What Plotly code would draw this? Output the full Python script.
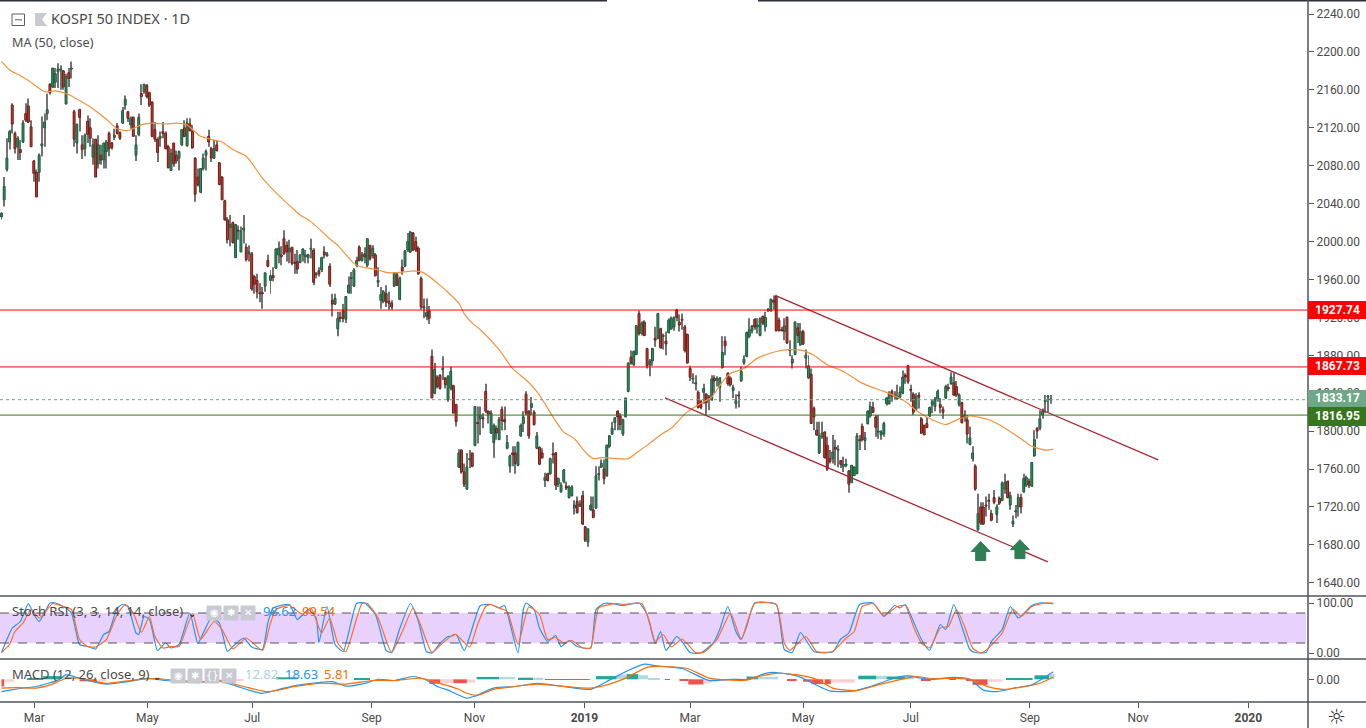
import plotly.graph_objects as go

W, H = 1366, 728

# daily candles
open_prices = [
    2026,2044,2076,2105,2144,2114,2100,2097,2105,2135,
    2143,2121,2085,2073,2073,2101,2120,2135,2166,2163,
    2168,2179,2181,2180,2145,2178,2182,2137,2104,2139,
    2102,2098,2127,2120,2089,2108,2082,2091,2086,2095,
    2114,2104,2110,2122,2115,2125,2144,2137,2123,2131,
    2091,2113,2156,2158,2165,2157,2147,2118,2108,2109,
    2116,2114,2100,2075,2104,2091,2088,2102,2120,2101,
    2124,2116,2088,2068,2052,2077,2091,2111,2098,2088,
    2102,2083,2068,2043,2023,2015,2020,1983,2012,1989,
    2012,1994,1987,1987,1963,1959,1946,1946,1953,1980,
    1959,1964,1972,1986,1986,2003,1996,1989,1994,1978,
    1979,1978,1986,1984,1983,1992,1991,1965,1969,1970,
    1989,1985,1974,1938,1934,1908,1920,1927,1918,1946,
    1961,1953,1975,1994,1980,1987,1975,1996,1985,1986,
    1957,1938,1937,1945,1937,1935,1953,1965,1939,1973,
    1974,1991,1989,2009,2000,1993,1961,1931,1921,1927,
    1879,1840,1857,1859,1865,1856,1833,1845,1848,1828,
    1762,1780,1757,1739,1770,1777,1785,1809,1813,1814,
    1842,1821,1798,1788,1803,1791,1823,1812,1782,1763,
    1777,1777,1764,1795,1808,1839,1821,1825,1820,1782,
    1783,1777,1748,1755,1755,1776,1777,1744,1736,1747,
    1742,1730,1732,1719,1726,1721,1732,1699,1683,1717,
    1717,1719,1754,1762,1760,1753,1784,1797,1809,1821,
    1816,1797,1815,1842,1878,1870,1881,1924,1903,1915,
    1887,1870,1874,1898,1898,1908,1900,1895,1904,1908,
    1910,1928,1915,1918,1910,1902,1866,1855,1850,1841,
    1831,1841,1839,1836,1833,1856,1854,1846,1867,1895,
    1861,1856,1843,1829,1838,1853,1872,1879,1900,1906,
    1918,1910,1901,1921,1910,1928,1927,1938,1942,1917,
    1907,1905,1920,1885,1872,1881,1909,1891,1905,1877,
    1856,1860,1824,1801,1777,1794,1799,1785,1771,1771,
    1783,1780,1769,1763,1764,1758,1746,1753,1755,1791,
    1805,1790,1808,
    1816,1825,1815,1799,1796,1797,1829,1829,1842,1838,
    1834,1836,1840,1859,1869,1844,1839,1823,1838,1813,
    1806,1808,1816,1828,1826,1833,1828,1823,1835,1846,
    1850,1851,1847,1828,1830,1815,1812,1786,1771,1763,
    1696,1720,1720,1722,1727,1713,1730,1712,1729,1727,
    1739,1747,1722,1702,1715,1720,1730,1736,1743,1747,
    1742,1774,1803,1803,1817,1831,1836,1833,
]
high_prices = [
    2031,2068,2109,2118,2146,2116,2111,2107,2128,2146,
    2151,2128,2086,2076,2093,2132,2135,2156,2167,2183,
    2183,2188,2186,2181,2177,2183,2190,2139,2124,2140,
    2112,2114,2133,2130,2109,2108,2112,2102,2104,2107,
    2116,2105,2119,2125,2116,2142,2154,2137,2132,2132,
    2112,2135,2166,2166,2166,2158,2148,2126,2110,2116,
    2126,2116,2102,2098,2104,2096,2096,2118,2128,2130,
    2130,2123,2089,2077,2077,2093,2097,2118,2100,2107,
    2106,2084,2069,2044,2026,2028,2021,2018,2017,2016,
    2028,1998,1996,1989,1965,1966,1956,1952,1967,1986,
    1970,1973,1993,2000,1995,2012,2000,2002,1994,1987,
    1991,1986,1993,1991,1987,2003,1993,1968,1973,1984,
    1995,1989,1977,1945,1945,1926,1926,1934,1942,1963,
    1968,1972,1984,1996,1989,1994,2003,1996,1996,1988,
    1973,1952,1949,1954,1947,1938,1968,1968,1963,1981,
    1991,2009,2011,2010,2005,1995,1963,1940,1940,1932,
    1886,1872,1859,1860,1879,1857,1859,1868,1849,1829,
    1781,1781,1766,1777,1780,1777,1826,1826,1826,1819,
    1850,1822,1822,1808,1806,1815,1826,1826,1796,1775,
    1784,1784,1789,1808,1821,1842,1822,1836,1822,1799,
    1784,1782,1756,1756,1772,1788,1778,1751,1746,1760,
    1747,1743,1743,1727,1731,1727,1737,1700,1697,1731,
    1731,1763,1763,1770,1770,1786,1796,1810,1815,1822,
    1819,1813,1835,1872,1885,1885,1912,1927,1916,1917,
    1888,1876,1888,1910,1925,1909,1903,1905,1919,1921,
    1921,1929,1923,1924,1912,1903,1869,1861,1859,1843,
    1833,1850,1840,1838,1859,1859,1858,1857,1900,1900,
    1862,1858,1849,1839,1842,1868,1880,1905,1919,1912,
    1919,1919,1920,1922,1926,1930,1940,1943,1944,1920,
    1910,1919,1921,1896,1880,1916,1914,1914,1907,1886,
    1880,1866,1826,1810,1810,1810,1800,1794,1780,1796,
    1791,1785,1769,1773,1771,1759,1764,1763,1798,1796,
    1808,1799,1822,
    1831,1831,1817,1817,1801,1810,1836,1842,1844,1842,
    1849,1847,1864,1861,1870,1849,1841,1840,1841,1815,
    1807,1815,1826,1833,1836,1844,1835,1826,1849,1850,
    1862,1862,1853,1840,1831,1822,1817,1805,1784,1765,
    1734,1725,1725,1731,1734,1717,1738,1723,1731,1747,
    1755,1748,1736,1711,1722,1734,1734,1755,1753,1750,
    1767,1801,1804,1822,1824,1838,1838,1838,
]
low_prices = [
    2023,2037,2074,2097,2114,2093,2086,2086,2104,2126,
    2125,2100,2063,2047,2063,2090,2100,2128,2155,2162,
    2162,2162,2160,2160,2145,2163,2172,2100,2093,2116,
    2087,2090,2104,2100,2081,2068,2077,2081,2077,2077,
    2090,2097,2107,2113,2107,2124,2139,2126,2119,2111,
    2085,2111,2144,2156,2151,2142,2110,2105,2084,2100,
    2109,2097,2077,2075,2079,2082,2075,2101,2110,2100,
    2116,2098,2042,2058,2051,2075,2075,2100,2084,2087,
    2095,2060,2044,2022,1998,1995,1998,1983,2002,1989,
    1998,1979,1979,1948,1945,1940,1936,1929,1947,1973,
    1945,1958,1971,1977,1975,1986,1979,1977,1975,1966,
    1966,1977,1979,1977,1977,1982,1954,1961,1963,1968,
    1982,1984,1952,1921,1933,1900,1915,1915,1914,1945,
    1945,1952,1973,1979,1979,1977,1973,1980,1982,1963,
    1952,1929,1935,1931,1928,1928,1952,1953,1938,1965,
    1973,1989,1988,1990,1989,1965,1928,1919,1917,1913,
    1835,1839,1845,1844,1854,1845,1831,1843,1819,1805,
    1761,1755,1741,1738,1761,1762,1784,1787,1796,1803,
    1819,1808,1797,1772,1791,1791,1801,1801,1781,1756,
    1763,1755,1763,1794,1799,1817,1792,1817,1806,1781,
    1764,1771,1741,1747,1754,1766,1738,1741,1735,1745,
    1738,1729,1731,1712,1713,1720,1701,1683,1678,1716,
    1708,1718,1748,1761,1744,1752,1782,1796,1801,1801,
    1801,1795,1815,1841,1870,1869,1880,1901,1901,1900,
    1866,1858,1869,1889,1897,1887,1886,1880,1903,1907,
    1906,1916,1905,1907,1883,1871,1853,1850,1843,1824,
    1823,1829,1817,1822,1832,1840,1847,1831,1866,1880,
    1848,1847,1835,1824,1825,1852,1870,1878,1898,1903,
    1907,1903,1900,1912,1905,1926,1926,1928,1905,1905,
    1905,1896,1892,1879,1866,1880,1893,1890,1891,1866,
    1855,1808,1801,1795,1776,1792,1771,1758,1766,1766,
    1764,1762,1761,1757,1762,1735,1745,1753,1755,1780,
    1789,1780,1807,
    1814,1819,1794,1792,1791,1794,1827,1828,1831,1834,
    1833,1835,1839,1850,1850,1831,1817,1822,1824,1797,
    1796,1803,1815,1819,1821,1831,1819,1813,1834,1842,
    1849,1837,1836,1826,1808,1810,1787,1785,1768,1737,
    1695,1701,1701,1710,1717,1705,1723,1703,1722,1726,
    1734,1729,1717,1699,1708,1710,1713,1735,1741,1740,
    1741,1773,1792,1801,1813,1819,1820,1829,
]
close_prices = [
    2030,2058,2088,2116,2124,2098,2109,2094,2125,2128,
    2126,2100,2072,2047,2091,2103,2126,2139,2157,2183,
    2177,2182,2182,2163,2174,2172,2183,2108,2124,2131,
    2097,2112,2113,2109,2102,2068,2102,2086,2104,2105,
    2098,2099,2112,2114,2109,2138,2150,2130,2130,2111,
    2102,2131,2153,2166,2153,2144,2111,2108,2094,2111,
    2114,2098,2078,2093,2082,2085,2095,2118,2111,2125,
    2117,2099,2050,2060,2077,2088,2095,2105,2088,2098,
    2096,2060,2044,2023,2002,2018,1999,2018,2011,2011,
    2014,1981,1989,1950,1955,1947,1945,1945,1967,1974,
    1964,1962,1992,1993,1984,1987,1989,1993,1977,1977,
    1971,1986,1992,1986,1986,1993,1957,1966,1966,1983,
    1986,1987,1955,1934,1940,1919,1919,1919,1942,1954,
    1962,1970,1980,1980,1986,1984,2003,1982,1993,1964,
    1959,1944,1947,1936,1935,1931,1967,1954,1961,1969,
    1990,2000,2010,1991,1991,1966,1931,1930,1925,1919,
    1835,1865,1847,1845,1866,1849,1858,1863,1819,1810,
    1777,1757,1744,1762,1771,1763,1826,1808,1817,1813,
    1821,1818,1819,1806,1798,1812,1811,1810,1788,1774,
    1775,1766,1788,1806,1815,1819,1795,1829,1807,1795,
    1765,1772,1751,1748,1771,1775,1743,1750,1743,1759,
    1740,1741,1741,1722,1714,1723,1702,1685,1697,1722,
    1709,1753,1755,1766,1750,1785,1795,1803,1814,1815,
    1807,1812,1835,1872,1872,1884,1911,1903,1914,1901,
    1869,1874,1887,1896,1924,1888,1901,1892,1917,1919,
    1920,1920,1912,1917,1885,1872,1857,1856,1851,1825,
    1825,1845,1830,1835,1855,1853,1855,1856,1883,1890,
    1850,1849,1846,1832,1837,1863,1876,1904,1907,1911,
    1910,1912,1919,1914,1920,1927,1939,1936,1906,1906,
    1906,1911,1893,1886,1876,1915,1901,1905,1892,1880,
    1869,1808,1815,1796,1795,1798,1772,1760,1768,1778,
    1781,1781,1765,1765,1765,1744,1764,1762,1795,1790,
    1791,1793,1821,
    1826,1820,1804,1800,1799,1808,1835,1840,1837,1837,
    1837,1841,1857,1857,1852,1843,1820,1836,1836,1798,
    1796,1804,1825,1831,1834,1842,1825,1820,1847,1845,
    1857,1838,1838,1838,1809,1817,1797,1793,1777,1739,
    1713,1703,1702,1721,1726,1706,1725,1720,1724,1745,
    1746,1730,1732,1705,1716,1730,1720,1750,1751,1743,
    1767,1791,1800,1813,1821,1833,1837,1833.17,
]

# moving average
ma_bar = [0,3,7,10,16,20,25,27,33,39,43,47,52,56,61,65,69,74,79,82,86,91,97,104,109,111,115,122,125,131,133,140,144,150,153,157,163,
          165,170,172,175,178,185,190,195,199,202,205,209,213,217,220,223,233,236,240,246,249,254,258,264,268,271,276,281,288,293,298,302,307,313,319,
          323,328,335,341,346,351,356,360,367,372,379,383,388,391]
ma_val = [2190,2181,2175,2170,2158,2159,2155,2152,2142,2129,2119,2117,2123,2125,2124,2125,2123,2111,2107,2105,2097,2090,2067,2046,2033,2028,2021,2003,1996,1977,1974,1970,1967,1968,1969,1967,1954,
          1949,1935,1924,1914,1907,1886,1866,1854,1842,1829,1815,1799,1792,1778,1771,1772,1771,1777,1785,1798,1803,1818,1826,1836,1852,1861,1866,1877,1884,1886,1885,1880,1870,1863,1852,
          1847,1842,1833,1820,1812,1807,1813,1816,1812,1805,1792,1784,1780,1781]

# stoch rsi
stoch_k_bar = [0,2,4,7,10,12,14,16,18,20,23,26,29,32,35,38,40,43,45,47,50,51,53,55,58,61,63,66,70,73,75,78,81,84,86,90,93,97,99,101,107,110,114,117,118,121,124,127,132,135,139,143,145,148,152,155,158,160,163,166,
               167,169,172,176,178,182,185,187,189,192,194,195,198,200,203,206,208,211,214,219,221,224,227,231,237,240,243,245,247,251,253,256,260,265,267,270,273,275,277,280,288,291,294,297,302,309,312,315,319,324,328,332,334,
               336,339,342,345,349,351,354,357,360,362,366,368,372,375,378,383,386,391]
stoch_k = [1,27,50,63,99,77,63,80,100,100,93,80,17,13,8,37,43,90,97,93,40,37,73,67,5,20,10,17,80,19,40,70,60,3,13,30,12,7,60,90,97,67,87,70,21,93,17,3,99,100,77,5,1,48,99,63,3,0,19,33,
           33,37,5,67,95,97,90,95,60,0,87,100,87,50,23,35,13,25,13,10,87,99,99,95,100,77,19,43,5,33,23,1,0,23,47,93,43,27,53,100,97,7,1,41,3,2,28,40,97,100,73,95,90,
           97,63,27,5,57,47,97,53,7,1,1,23,47,93,70,95,100,98.62]
stoch_d_bar = [0,3,5,8,11,14,16,19,23,26,29,32,35,39,43,46,49,52,55,57,60,63,66,71,74,79,82,86,91,97,100,102,107,112,115,119,122,125,128,134,136,140,145,149,153,156,160,164,168,
               169,174,177,180,182,185,188,192,196,200,203,206,209,212,216,219,222,229,231,238,241,243,246,249,253,258,261,266,271,275,280,288,291,293,299,303,309,314,317,320,324,328,333,
               336,339,342,345,349,352,355,358,361,364,367,372,376,379,383,388,391]
stoch_d = [1,17,43,60,87,70,80,99,93,87,27,13,12,27,77,97,80,41,73,33,10,13,13,79,27,63,47,8,30,5,60,87,95,77,90,40,70,20,3,99,99,70,1,43,90,53,1,20,37,
           37,12,57,93,97,90,83,17,92,77,27,31,20,25,10,10,90,99,97,99,60,23,37,12,28,1,1,27,80,28,99,97,20,5,33,3,3,30,43,93,99,75,93,
           95,53,20,10,50,53,87,53,10,0,10,40,88,73,93,100,99.54]

# macd
macd_bar = [0,3,7,13,21,24,29,34,39,47,54,61,74,79,86,92,97,105,111,118,123,128,135,140,146,153,158,162,166,
            173,176,183,191,199,208,219,226,232,239,244,253,263,271,278,284,288,296,308,317,323,334,338,
            340,346,354,360,365,370,377,383,391]
macd_val = [-31,-27,-23,-18,-2,11,2.5,-6,-12,-6,2.5,-3,-8,-2,-14,-27,-35,-22,-14,-8,-6,-17,-10,0,-3,7,-2,-18,-27,
            -47,-42,-22,-18,-10,-17,-25,-2,19,38,33,27,-3,0,0,15,17,8,-29,-29,-18,7,8,
            5,0,5,0,-27,-31,-21,-14,18.63]
signal_bar = [0,6,13,18,24,30,39,49,57,66,76,81,90,99,109,118,128,138,146,156,163,170,
              173,177,183,191,199,208,219,226,232,240,246,255,263,271,276,282,288,296,303,309,318,327,338,
              340,346,354,360,366,372,378,386,391]
signal_val = [-22,-21,-22,-14,2,2,-10,-2,2,-3,-6,-3,-18,-31,-18,-10,-12,-3,-3,2.5,-10,-25,
              -35,-40,-25,-18,-12,-17,-22,-12,3,30,32,27,3,-2,-3,8,15,11,0,-22,-28,-12,5,
              7,2,2.5,0,-17,-25,-21,-10,5.81]

TEAL, LIGHT, PINK, RED = "#26a69a", "#b2d8e2", "#ffcdd2", "#ef5350"
hist_start = [0,1,9.5,15.5,22,29,36,80.5,87,102,131,159,163,168,173,176.6,185,192,197.7,202,221,228.7,232.4,236.7,240.4,246.6,252,255.3,261,264,
              277,281.3,292,298,301,306,308.3,318.5,325.3,329,336,341.8,352.3,358.5,361,366.6,373.4,384,389.5]
hist_end = [1,4.5,15.5,22,26,35.5,39,86,90,110,137,163,168,173,176,185,191,197.7,201.4,218.7,228.7,232.4,236.7,240.4,244.8,248.5,255.3,261,264,269.6,
            281.3,288.8,295.6,301,305.5,308.3,317.3,325.3,329,336,339.3,345.5,354.8,361,366.6,372.1,383.3,389.5,391.4]
hist_val = [-18,-6,3,8,6,-5,-3,-6,-4,5,3,-11,-10,-10,-8,6,6,4,4,-1.5,8,12,13,10,3,-1,-4,-13,-10,-2,
            7,6,-3,-6,-12,-12,-8,9,9,7,10,-3.5,3,-3,-14,-6,3,10,12.82]
hist_color = [RED,PINK,TEAL,TEAL,LIGHT,RED,PINK,PINK,PINK,TEAL,TEAL,RED,PINK,RED,PINK,TEAL,LIGHT,TEAL,LIGHT,RED,TEAL,LIGHT,TEAL,LIGHT,LIGHT,RED,RED,RED,PINK,PINK,
              TEAL,LIGHT,RED,RED,RED,RED,PINK,TEAL,LIGHT,TEAL,LIGHT,RED,TEAL,RED,RED,PINK,TEAL,TEAL,LIGHT]

# levels and drawn lines
level_high = 1927.74
level_mid = 1867.73
level_low = 1816.95
last_price = 1833.17
upper_bar = [288, 430]
upper_val = [1942.6, 1769.6]
lower_bar = [246.7, 389]
lower_val = [1835, 1662]

price_ticks = [1640 + 40 * i for i in range(16)]
date_tick_bar = [12.2, 54.2, 93.2, 137.6, 175.8, 216.7, 256, 298, 338, 382.3, 422.5, 463.5]
date_tick_text = ["Mar", "May", "Jul", "Sep", "Nov", "<b>2019</b>", "Mar", "May", "Jul", "Sep", "Nov", "<b>2020</b>"]

FONT = "Noto Sans"
AXIS_FONT = "Roboto"
TEXT = "#4a4a4a"
SEP = "#50535e"
BAR_STEP = 2.69


def fx(px):
    return px / W


def fy(py):
    return 1 - py / H


bars = list(range(len(close_prices)))
up = [c >= o for o, c in zip(open_prices, close_prices)]

fig = go.Figure()

# wicks
fig.add_trace(go.Bar(
    x=bars, base=low_prices, y=[h - l for h, l in zip(high_prices, low_prices)],
    width=0.37, marker=dict(color="#737373", line=dict(width=0)),
    xaxis="x", yaxis="y", hoverinfo="skip"))
# bodies
fig.add_trace(go.Bar(
    x=bars,
    base=[min(o, c) for o, c in zip(open_prices, close_prices)],
    y=[max(abs(c - o), 1) for o, c in zip(open_prices, close_prices)],
    width=0.72,
    marker=dict(color=["#388e63" if u else "#c73a2e" for u in up],
                line=dict(color=["#1d5c3d" if u else "#6e1f1a" for u in up], width=1)),
    xaxis="x", yaxis="y", hoverinfo="skip"))
fig.add_trace(go.Scatter(x=ma_bar, y=ma_val, mode="lines", line=dict(color="#f7923c", width=1.2, shape="spline", smoothing=0.6), xaxis="x", yaxis="y"))
for xs, ys in [(upper_bar, upper_val), (lower_bar, lower_val)]:
    fig.add_trace(go.Scatter(x=xs, y=ys, mode="lines", line=dict(color="#a82735", width=1.3), xaxis="x", yaxis="y"))

# stoch rsi
fig.add_trace(go.Scatter(x=stoch_k_bar, y=stoch_k, mode="lines", line=dict(color="#2196f3", width=1.2, shape="spline", smoothing=0.5), xaxis="x2", yaxis="y2"))
fig.add_trace(go.Scatter(x=stoch_d_bar, y=stoch_d, mode="lines", line=dict(color="#ff6d2e", width=1.2, shape="spline", smoothing=0.5), xaxis="x2", yaxis="y2"))

# macd
fig.add_trace(go.Bar(
    x=[(a + b) / 2 for a, b in zip(hist_start, hist_end)],
    y=hist_val,
    width=[b - a for a, b in zip(hist_start, hist_end)],
    marker=dict(color=hist_color, line=dict(width=0)),
    xaxis="x3", yaxis="y3", hoverinfo="skip"))
fig.add_trace(go.Scatter(x=macd_bar, y=macd_val, mode="lines", line=dict(color="#2196f3", width=1.2, shape="spline", smoothing=0.6), xaxis="x3", yaxis="y3"))
fig.add_trace(go.Scatter(x=signal_bar, y=signal_val, mode="lines", line=dict(color="#ff6d00", width=1.2, shape="spline", smoothing=0.6), xaxis="x3", yaxis="y3"))

xrange = [-1.5 / BAR_STEP, (1308 - 1.5) / BAR_STEP]
shapes = []
annotations = []


def hline(value, color, dash="solid", width=1, yref="y"):
    shapes.append(dict(type="line", xref="paper", yref=yref, x0=0, x1=fx(1308), y0=value, y1=value,
                       line=dict(color=color, width=width, dash=dash)))


def rule(x0, y0, x1, y1, color=SEP, width=1.5):
    shapes.append(dict(type="line", xref="paper", yref="paper", x0=fx(x0), x1=fx(x1), y0=fy(y0), y1=fy(y1),
                       line=dict(color=color, width=width)))


def label(px, py, text, size=12, color=TEXT, anchor="left", family=FONT):
    # annotations sit a little off their anchor, so pull them back
    nudge = -2 if anchor == "left" else 0
    annotations.append(dict(xref="paper", yref="paper", x=fx(px + nudge), y=fy(py - 2), text=text, showarrow=False,
                            xanchor=anchor, yanchor="middle", font=dict(family=family, size=size, color=color)))


def price_tag(py0, py1, text, color):
    shapes.append(dict(type="rect", xref="paper", yref="paper", x0=fx(1308), x1=fx(1366), y0=fy(py0), y1=fy(py1),
                       fillcolor=color, line=dict(width=0)))
    label(1337, (py0 + py1) / 2 + 1.5, "<b>%s</b>" % text, size=12, color="#ffffff", anchor="center", family=AXIS_FONT)


def icon(px0, py0, glyph):
    shapes.append(dict(type="path", xref="paper", yref="paper",
                       path="M %f %f L %f %f L %f %f L %f %f Z" % (fx(px0), fy(py0), fx(px0 + 14), fy(py0), fx(px0 + 14), fy(py0 + 14), fx(px0), fy(py0 + 14)),
                       fillcolor="#c8cad2", line=dict(color="#c8cad2", width=1)))
    label(px0 + 7, py0 + 8.5, glyph, size=10, color="#ffffff", anchor="center", family="DejaVu Sans")


# stoch band
shapes.append(dict(type="rect", xref="paper", yref="y2", x0=0, x1=fx(1306), y0=20, y1=80,
                   fillcolor="#e8d1fc", line=dict(width=0), layer="below"))
hline(80, "#555555", "dash", 1, "y2")
hline(20, "#555555", "dash", 1, "y2")

hline(level_high, "#ff0000")
hline(level_mid, "#ff0000")
hline(last_price, "#6ba583", "dot")
hline(level_low, "#38761d")

# frame
rule(0, 0.5, 607, 0.5, "#2a2e39", 2)
rule(758, 0.5, 1366, 0.5, "#2a2e39", 2)
rule(0, 596, 1366, 596)
rule(0, 659, 1366, 659)
rule(0, 702, 1366, 702)
rule(1308, 0, 1308, 728)

# entry arrows under the channel
for bar, val in [(364, 1673), (378.6, 1675)]:
    shapes.append(dict(type="path", xref="x", yref="y", xsizemode="pixel", ysizemode="pixel",
                       xanchor=bar, yanchor=val,
                       path="M 0 10 L 9.5 0 L 5 0 L 5 -9 L -5 -9 L -5 0 L -9.5 0 Z",
                       fillcolor="#2f7f56", line=dict(color="#2f7f56", width=1)))

price_tag(301, 319, "1927.74", "#ff0000")
price_tag(357, 375, "1867.73", "#ff0000")
price_tag(390, 407, "1833.17", "#6ea888")
price_tag(407, 426, "1816.95", "#38761d")

# header
shapes.append(dict(type="rect", xref="paper", yref="paper", x0=fx(12), x1=fx(24.5), y0=fy(14), y1=fy(25.5),
                   line=dict(color="#5a5e66", width=1), fillcolor="#ffffff"))
rule(15, 19.8, 22, 19.8, "#5a5e66", 1)
shapes.append(dict(type="path", xref="paper", yref="paper",
                   path="M %f %f L %f %f L %f %f L %f %f L %f %f Z" % (fx(35), fy(13), fx(47), fy(13), fx(42), fy(19.5), fx(47), fy(26), fx(35), fy(26)),
                   fillcolor="#c8cad2", line=dict(width=0)))
label(51, 20, "KOSPI 50 INDEX · 1D", size=14.5)
label(12, 44.5, "MA (50, close)", size=12.6)

label(12, 613, "Stoch RSI (3, 3, 14, 14, close)", size=13)
label(192, 615, "<b>⌄</b>", size=10, color="#333333", anchor="center", family="DejaVu Sans")
icon(207, 606, "◉")
icon(224, 606, "✱")
icon(241, 606, "✕")
label(263, 613, "98.62", size=13, color="#2196f3")
label(302, 613, "99.54", size=13, color="#ff6d00")

label(12, 676, "MACD (12, 26, close, 9)", size=13)
label(157, 678, "<b>⌄</b>", size=10, color="#333333", anchor="center", family="DejaVu Sans")
icon(171, 669, "◉")
icon(188, 669, "✱")
icon(205, 669, "{}")
icon(222, 669, "✕")
label(245, 676, "12.82", size=13, color="#a8d4e6")
label(285, 676, "18.63", size=13, color="#2196f3")
label(324, 676, "5.81", size=13, color="#ff6d00")

label(1336, 719, "☼", size=21, color="#333333", anchor="center", family="DejaVu Sans")

tick_font = dict(family=AXIS_FONT, size=12, color=TEXT)
common_y = dict(side="right", showgrid=False, zeroline=False, showline=False, ticks="outside", ticklen=5,
                tickcolor=SEP, tickfont=tick_font, tickformat=".2f")
common_x = dict(range=xrange, showgrid=False, zeroline=False, showline=False, rangeslider=dict(visible=False))

fig.update_layout(
    width=W, height=H, margin=dict(l=0, r=0, t=0, b=0),
    paper_bgcolor="#ffffff", plot_bgcolor="#ffffff",
    showlegend=False, barmode="overlay", hovermode=False,
    font=dict(family=FONT),
    xaxis=dict(domain=[0, fx(1308)], anchor="y", showticklabels=False, ticks="", **common_x),
    xaxis2=dict(domain=[0, fx(1308)], anchor="y2", showticklabels=False, ticks="", **common_x),
    xaxis3=dict(domain=[0, fx(1308)], anchor="y3", tickmode="array", tickvals=date_tick_bar, ticktext=date_tick_text,
                ticks="outside", ticklen=5, tickcolor=SEP, tickfont=tick_font, **common_x),
    yaxis=dict(domain=[fy(596), 1], anchor="x", range=[1626.1, 2254.8], tickmode="array", tickvals=price_ticks, **common_y),
    yaxis2=dict(domain=[fy(659), fy(596)], anchor="x2", range=[-12, 114], tickmode="array", tickvals=[0, 100], **common_y),
    yaxis3=dict(domain=[fy(702), fy(659)], anchor="x3", range=[-56.75, 50.75], tickmode="array", tickvals=[0], **common_y),
    shapes=shapes, annotations=annotations,
)

fig.write_html("out.html", config=dict(displayModeBar=False), post_script="document.body.style.margin='0';")
